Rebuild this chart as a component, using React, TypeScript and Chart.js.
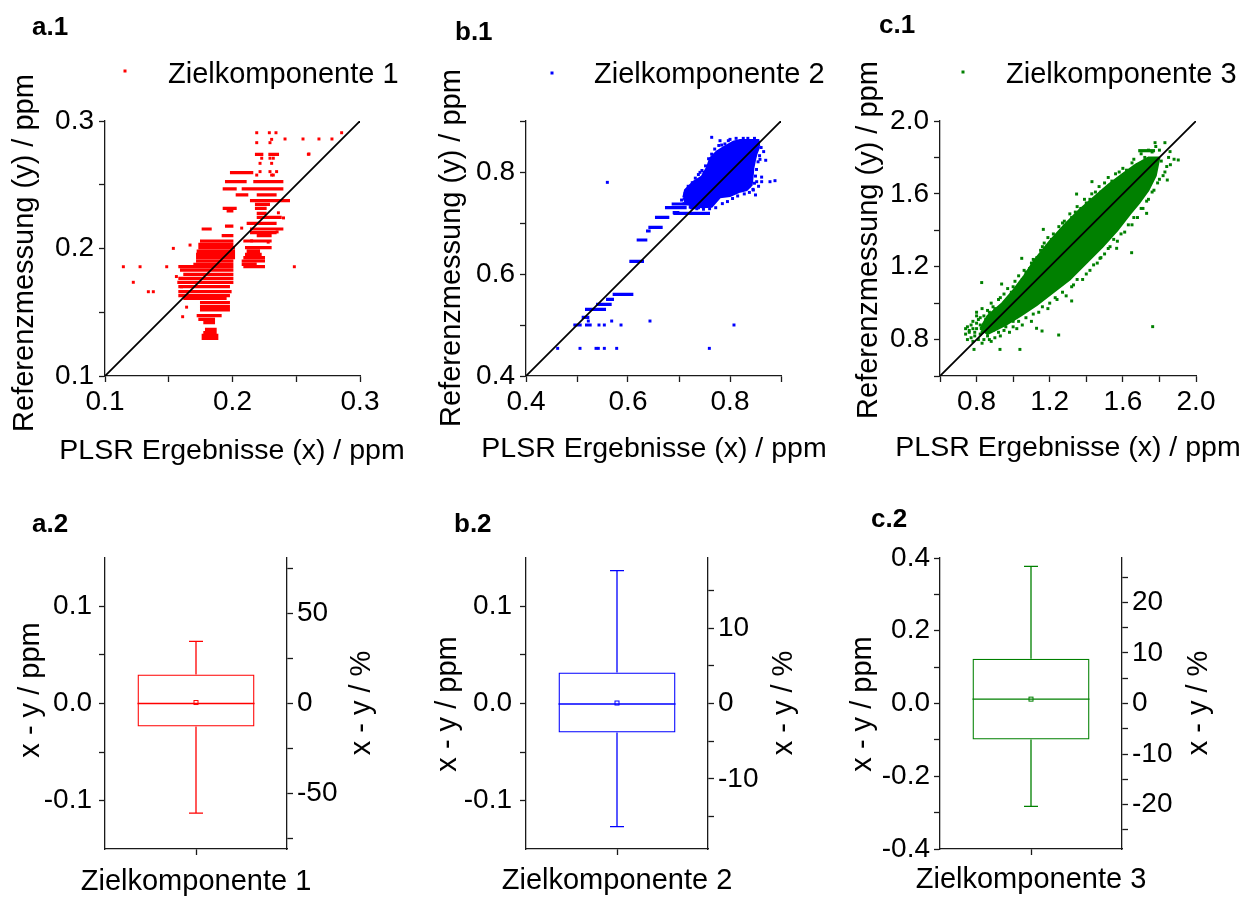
import React, { useEffect, useRef } from "react";
import { Chart, registerables } from "chart.js";

Chart.register(...registerables);

const FONT = "'Liberation Sans', Arial, Helvetica, sans-serif";
Chart.defaults.font.family = FONT;
Chart.defaults.color = "#000";

// ======================= DATA =======================
// ---- a.1  Zielkomponente 1 (red) ----
const comp1PointX = [0.1144, 0.1275, 0.1484, 0.1222, 0.134, 0.1379, 0.1536, 0.1667, 0.1609, 0.2485, 0.2595, 0.2412, 0.2553, 0.2678, 0.278, 0.2856, 0.219, 0.2289, 0.2341, 0.219, 0.2294, 0.2307, 0.2216, 0.2307, 0.2229, 0.2294, 0.232, 0.2216, 0.2294, 0.2346, 0.219, 0.2307, 0.232, 0.2072, 0.215, 0.228, 0.235, 0.236, 0.24, 0.156, 0.16, 0.164, 0.26];
const comp1PointY = [0.1857, 0.1857, 0.1857, 0.1735, 0.1661, 0.1661, 0.2001, 0.2027, 0.1465, 0.1857, 0.2739, 0.2859, 0.2859, 0.2859, 0.2859, 0.2908, 0.2908, 0.2908, 0.2908, 0.283, 0.283, 0.2856, 0.2668, 0.2668, 0.2708, 0.2708, 0.2708, 0.2603, 0.2603, 0.2603, 0.2576, 0.2576, 0.2576, 0.216, 0.206, 0.205, 0.213, 0.228, 0.224, 0.178, 0.17, 0.154, 0.2741];
const comp1RunY = [0.2739, 0.2739, 0.2595, 0.2524, 0.2524, 0.2467, 0.2467, 0.242, 0.242, 0.2375, 0.2346, 0.2315, 0.2315, 0.2294, 0.2276, 0.2244, 0.2197, 0.2176, 0.2153, 0.2153, 0.2124, 0.2101, 0.2101, 0.2059, 0.2059, 0.2033, 0.2007, 0.2007, 0.198, 0.198, 0.1954, 0.1954, 0.1928, 0.1928, 0.1902, 0.1902, 0.1876, 0.1876, 0.1858, 0.1858, 0.1831, 0.1797, 0.1766, 0.1735, 0.1701, 0.1661, 0.163, 0.1609, 0.1575, 0.1544, 0.1518, 0.1473, 0.1444, 0.1418, 0.1366, 0.134, 0.1318, 0.1295];
const comp1RunX0 = [0.2176, 0.2281, 0.198, 0.1941, 0.2163, 0.1923, 0.2072, 0.2025, 0.219, 0.2137, 0.2176, 0.1923, 0.2176, 0.1954, 0.219, 0.219, 0.2111, 0.1941, 0.1758, 0.2137, 0.2137, 0.1915, 0.219, 0.1745, 0.2085, 0.1732, 0.1732, 0.2098, 0.1719, 0.2111, 0.1714, 0.2098, 0.1714, 0.2085, 0.1714, 0.2072, 0.1693, 0.2072, 0.1575, 0.2085, 0.1588, 0.1614, 0.1575, 0.1567, 0.1575, 0.1575, 0.1575, 0.1614, 0.1745, 0.1745, 0.1745, 0.1719, 0.1732, 0.1771, 0.1784, 0.1771, 0.1758, 0.1758];
const comp1RunX1 = [0.2242, 0.2365, 0.2163, 0.2111, 0.2399, 0.2033, 0.2399, 0.2124, 0.2346, 0.2451, 0.2294, 0.2033, 0.2268, 0.2007, 0.2268, 0.2386, 0.2346, 0.2007, 0.1837, 0.2399, 0.2346, 0.2007, 0.2307, 0.2007, 0.2307, 0.2007, 0.202, 0.2307, 0.202, 0.2216, 0.202, 0.2229, 0.202, 0.2255, 0.2007, 0.2255, 0.2007, 0.219, 0.2007, 0.2255, 0.2007, 0.2007, 0.2007, 0.2007, 0.198, 0.1993, 0.198, 0.1954, 0.198, 0.198, 0.198, 0.1915, 0.1863, 0.1863, 0.1876, 0.1876, 0.1889, 0.1889];
const diag1 = [0.1, 0.3];
const axisTicks1 = [0.1, 0.15, 0.2, 0.25, 0.3];
const axisLabels1 = [0.1, 0.2, 0.3];

// ---- b.1  Zielkomponente 2 (blue) ----
const comp2PointX = [0.4621, 0.5059, 0.5373, 0.5418, 0.5536, 0.5778, 0.7595, 0.5431, 0.5536, 0.5863, 0.8078, 0.568, 0.6431, 0.5222, 0.5595, 0.7641, 0.7804, 0.7967, 0.7837, 0.7412, 0.749, 0.8588, 0.8523, 0.8621, 0.8784, 0.8882, 0.8458, 0.8379,
  0.705, 0.712, 0.718, 0.726, 0.732, 0.738, 0.745, 0.752, 0.758, 0.764, 0.77, 0.778, 0.79, 0.8, 0.812, 0.826, 0.835, 0.848, 0.856, 0.861, 0.858, 0.855, 0.852, 0.85, 0.848, 0.845, 0.838, 0.828, 0.815, 0.805, 0.795, 0.785, 0.772, 0.76, 0.748, 0.735, 0.722, 0.71, 0.866, 0.87, 0.862, 0.856, 0.85];
const comp2PointY = [0.4542, 0.4542, 0.4542, 0.4542, 0.4542, 0.4542, 0.4542, 0.5, 0.5, 0.5, 0.5, 0.5078, 0.5078, 0.5078, 0.7797, 0.868, 0.8614, 0.8614, 0.8529, 0.7993, 0.7993, 0.8248, 0.781, 0.781, 0.781, 0.783, 0.7647, 0.7725,
  0.745, 0.758, 0.772, 0.779, 0.788, 0.795, 0.803, 0.812, 0.826, 0.835, 0.845, 0.852, 0.855, 0.864, 0.866, 0.866, 0.866, 0.866, 0.858, 0.848, 0.832, 0.82, 0.805, 0.792, 0.778, 0.766, 0.76, 0.757, 0.753, 0.748, 0.742, 0.738, 0.73, 0.728, 0.727, 0.728, 0.731, 0.738, 0.84, 0.823, 0.79, 0.772, 0.755];
const comp2RunY = [0.5, 0.5, 0.515, 0.5307, 0.5405, 0.5503, 0.5601, 0.6248, 0.6667, 0.6843, 0.6915, 0.7111, 0.7203, 0.7301, 0.7301, 0.7373, 0.719];
const comp2RunX0 = [0.4928, 0.5157, 0.5092, 0.5157, 0.5373, 0.5569, 0.5699, 0.6026, 0.617, 0.6353, 0.6399, 0.6529, 0.6876, 0.6725, 0.7216, 0.6856, 0.6889];
const comp2RunX1 = [0.5092, 0.5288, 0.5242, 0.5569, 0.568, 0.5725, 0.6105, 0.6314, 0.6379, 0.6444, 0.668, 0.681, 0.7007, 0.715, 0.7412, 0.7281, 0.7608];
const comp2CoreUpperX = [0.7085, 0.7118, 0.7281, 0.7444, 0.7556, 0.7608, 0.7739, 0.7869, 0.8065, 0.8196, 0.8556, 0.8575];
const comp2CoreUpperY = [0.7503, 0.7647, 0.781, 0.7908, 0.8105, 0.8268, 0.8399, 0.8484, 0.8595, 0.8627, 0.8627, 0.8497];
const comp2CoreLowerX = [0.7085, 0.7118, 0.7216, 0.7444, 0.7641, 0.7804, 0.8, 0.8196, 0.8327, 0.8425, 0.8444, 0.8458, 0.849, 0.8523, 0.8575];
const comp2CoreLowerY = [0.7503, 0.7418, 0.7353, 0.7307, 0.732, 0.7503, 0.7529, 0.7614, 0.7647, 0.7745, 0.7908, 0.8072, 0.8235, 0.8366, 0.8497];
const diag2 = [0.4, 0.9];
const axisTicks2 = [0.4, 0.5, 0.6, 0.7, 0.8, 0.9];
const axisLabels2 = [0.4, 0.6, 0.8];

// ---- c.1  Zielkomponente 3 (green) ----
const comp3PointX = [0.76, 0.78, 0.8, 0.83, 0.85, 0.87, 0.88, 0.9, 0.92, 0.95, 0.97, 0.99, 1.01, 1.03, 1.06, 1.08, 1.1, 1.13, 1.15, 1.17, 1.19, 1.22, 1.25, 1.28, 1.31, 1.35, 1.39, 1.43, 1.47, 1.52, 1.56, 1.6, 1.65, 1.7, 1.74, 1.78,
  0.84, 0.88, 0.93, 0.98, 1.02, 1.05, 1.1, 1.14, 1.19, 1.24, 1.29, 1.33, 1.38, 1.42, 1.46, 1.5, 1.53, 1.57, 1.61, 1.65, 1.68, 1.71, 1.74, 1.77, 1.8, 1.83, 1.86, 1.88,
  0.74, 0.75, 0.77, 0.79, 0.81, 0.82, 0.83, 0.86, 0.87, 0.89, 0.91, 0.92, 0.94, 0.96, 0.97, 1.0, 0.8, 0.85, 0.78, 0.9,
  0.828, 0.786, 0.928, 1.037, 1.249, 1.158, 1.128, 1.763, 1.648, 1.32, 1.431, 1.165, 1.047, 1.903, 1.858, 1.83, 1.776, 1.843, 1.73, 1.566, 1.475, 1.347, 0.937,
  0.86, 0.89, 0.93, 0.96, 1.0, 1.02, 1.05, 1.07, 1.09, 1.11, 1.14, 1.16, 1.18, 1.21, 1.23, 1.26, 1.27, 1.3, 1.32, 1.34, 1.37, 1.4, 1.42, 1.45, 1.48, 1.5, 1.54, 1.58, 1.62, 1.66, 1.68, 1.72, 1.76, 1.8,
  0.9, 0.95, 1.0, 1.03, 1.07, 1.11, 1.16, 1.2, 1.23, 1.27, 1.32, 1.35, 1.4, 1.44, 1.48, 1.52, 1.55, 1.59, 1.63, 1.66, 1.7, 1.73, 1.76, 1.79, 1.82, 1.84, 1.81, 1.85,
  0.76, 0.77, 0.79, 0.8, 0.81, 0.82, 0.84, 0.84, 0.85, 0.86, 0.88, 0.88, 0.89, 0.9, 0.91, 0.93, 0.93, 0.95, 0.96, 0.98, 0.99, 0.78, 0.83, 0.87, 0.75, 0.74, 0.8, 0.82];
const comp3PointY = [0.85, 0.9, 0.93, 0.97, 0.88, 0.95, 1.0, 0.97, 1.02, 1.05, 1.08, 1.06, 1.12, 1.15, 1.18, 1.14, 1.22, 1.25, 1.29, 1.33, 1.36, 1.38, 1.42, 1.45, 1.49, 1.53, 1.57, 1.6, 1.64, 1.69, 1.71, 1.74, 1.77, 1.82, 1.84, 1.86,
  0.8, 0.79, 0.82, 0.84, 0.86, 0.88, 0.9, 0.95, 0.97, 1.02, 1.04, 1.1, 1.13, 1.18, 1.22, 1.27, 1.31, 1.34, 1.39, 1.43, 1.47, 1.52, 1.57, 1.62, 1.68, 1.72, 1.76, 1.79,
  0.83, 0.87, 0.81, 0.84, 0.8, 0.88, 0.84, 0.82, 0.86, 0.85, 0.88, 0.84, 0.9, 0.87, 0.92, 0.9, 0.89, 0.91, 0.86, 0.92,
  1.113, 0.746, 0.746, 0.746, 0.825, 0.847, 0.862, 0.871, 1.277, 1.012, 1.667, 1.405, 1.246, 1.786, 1.832, 1.881, 1.881, 1.676, 1.493, 1.301, 1.246, 1.599, 1.105,
  0.96, 0.98, 1.03, 1.01, 1.09, 1.07, 1.13, 1.17, 1.19, 1.24, 1.23, 1.31, 1.28, 1.35, 1.36, 1.4, 1.44, 1.44, 1.47, 1.5, 1.52, 1.55, 1.57, 1.61, 1.61, 1.66, 1.67, 1.72, 1.73, 1.79, 1.76, 1.8, 1.83, 1.84,
  0.81, 0.85, 0.87, 0.9, 0.92, 0.94, 0.98, 1.0, 1.03, 1.06, 1.09, 1.13, 1.16, 1.21, 1.25, 1.3, 1.35, 1.38, 1.43, 1.47, 1.52, 1.56, 1.61, 1.66, 1.7, 1.75, 1.78, 1.8,
  0.84, 0.88, 0.82, 0.86, 0.91, 0.83, 0.87, 0.93, 0.85, 0.89, 0.87, 0.91, 0.94, 0.89, 0.95, 0.88, 0.93, 0.91, 0.96, 0.94, 0.98, 0.79, 0.78, 0.8, 0.8, 0.86, 0.95, 0.92];
const comp3RunY = [1.837];
const comp3RunX0 = [1.684];
const comp3RunX1 = [1.776];
const comp3CoreUpperX = [0.82, 0.86, 0.94, 1.0, 1.06, 1.12, 1.2, 1.28, 1.36, 1.44, 1.52, 1.6, 1.67, 1.74, 1.8];
const comp3CoreUpperY = [0.86, 0.93, 1.0, 1.07, 1.15, 1.24, 1.34, 1.43, 1.51, 1.58, 1.65, 1.71, 1.76, 1.8, 1.8];
const comp3CoreLowerX = [0.82, 0.86, 0.96, 1.04, 1.13, 1.22, 1.31, 1.4, 1.49, 1.57, 1.64, 1.69, 1.74, 1.78, 1.8];
const comp3CoreLowerY = [0.86, 0.83, 0.88, 0.93, 0.99, 1.06, 1.13, 1.22, 1.31, 1.4, 1.49, 1.55, 1.62, 1.7, 1.8];
const diag3 = [0.6, 2.0];
const axisTicks3 = [0.6, 0.8, 1.0, 1.2, 1.4, 1.6, 1.8, 2.0];
const axisLabels3 = [0.8, 1.2, 1.6, 2.0];

// ---- Box plots (x - y) ----
const boxCategories = ["Zielkomponente 1", "Zielkomponente 2", "Zielkomponente 3"];
const boxLow = [-0.113, -0.127, -0.283];
const boxQ1 = [-0.0237, -0.03, -0.099];
const boxMedian = [0.0, -0.0005, 0.012];
const boxMean = [0.001, 0.0005, 0.012];
const boxQ3 = [0.03, 0.032, 0.123];
const boxHigh = [0.064, 0.137, 0.377];
const boxPpmRange = [0.15, 0.15, 0.4];
const boxPctRange = [80.8, 19.3, 28.8];
const boxPpmTicks = [
  [-0.1, -0.05, 0, 0.05, 0.1],
  [-0.1, -0.05, 0, 0.05, 0.1],
  [-0.4, -0.3, -0.2, -0.1, 0, 0.1, 0.2, 0.3, 0.4],
];
const boxPpmLabels = [
  [-0.1, 0, 0.1],
  [-0.1, 0, 0.1],
  [-0.4, -0.2, 0, 0.2, 0.4],
];
const boxPctTicks = [
  [-75, -50, -25, 0, 25, 50, 75],
  [-15, -10, -5, 0, 5, 10, 15],
  [-25, -20, -15, -10, -5, 0, 5, 10, 15, 20, 25],
];
const boxPctLabels = [
  [-50, 0, 50],
  [-10, 0, 10],
  [-20, -10, 0, 10, 20],
];

// ======================= STYLE / LAYOUT =======================
const COLORS = ["#ff0000", "#0000ff", "#008000"];
const AXIS_COLOR = "#1a1a1a";
const TICK_SIZE = 28;
const TITLE_SIZE = 29;
const XTITLE_SIZE = 28.5;
const LABEL_SIZE = 26;

type Box = { left: number; top: number; width: number; height: number };
type Area = { l: number; r: number; t: number; b: number };
type Txt = { text: string; x: number; y: number; size: number; bold?: boolean; rotate?: boolean; align?: CanvasTextAlign };

const isLabel = (labels: number[], v: number) => labels.some((l) => Math.abs(l - v) < 1e-9);

function textPlugin(items: Txt[], canvas: Box, marker?: { x: number; y: number; color: string }) {
  return {
    id: "panelText",
    afterDraw(chart: any) {
      const ctx: CanvasRenderingContext2D = chart.ctx;
      ctx.save();
      ctx.fillStyle = "#000";
      ctx.textBaseline = "alphabetic";
      for (const t of items) {
        ctx.save();
        ctx.font = `${t.bold ? "bold " : ""}${t.size}px ${FONT}`;
        ctx.translate(t.x - canvas.left, t.y - canvas.top);
        if (t.rotate) ctx.rotate(-Math.PI / 2);
        ctx.textAlign = t.align ?? "center";
        ctx.fillText(t.text, 0, 0);
        ctx.restore();
      }
      if (marker) {
        ctx.fillStyle = marker.color;
        ctx.fillRect(marker.x - canvas.left - 1.5, marker.y - canvas.top - 1.5, 3, 3);
      }
      ctx.restore();
    },
  };
}

function linearAxis(o: {
  min: number; max: number; ticks: number[]; labels: number[]; decimals: number;
  position: "left" | "right" | "bottom"; size: number; padding: number;
}) {
  const horizontal = o.position === "bottom";
  return {
    type: "linear",
    position: o.position,
    min: o.min,
    max: o.max,
    afterBuildTicks: (s: any) => {
      s.ticks = o.ticks.map((v) => ({ value: v }));
    },
    afterFit: (s: any) => {
      if (horizontal) s.height = o.size;
      else s.width = o.size;
      s.paddingLeft = 0;
      s.paddingRight = 0;
      s.paddingTop = 0;
      s.paddingBottom = 0;
    },
    ticks: {
      autoSkip: false,
      maxRotation: 0,
      minRotation: 0,
      padding: o.padding,
      color: "#000",
      font: { size: TICK_SIZE, family: FONT },
      callback: (v: number) => (isLabel(o.labels, v) ? v.toFixed(o.decimals) : ""),
    },
    grid: {
      drawOnChartArea: false,
      drawTicks: true,
      tickLength: 6,
      tickWidth: 1.3,
      tickColor: AXIS_COLOR,
    },
    border: { display: true, color: AXIS_COLOR, width: 1.3 },
  };
}

type ScatterPanel = {
  canvas: Box; area: Area; color: string; legend: string; label: string;
  labelPos: [number, number]; legendMarker: [number, number]; legendText: [number, number];
  xTitle: [number, number]; yTitle: [number, number];
  min: number; max: number; ticks: number[]; labels: number[]; diag: number[];
  px: number[]; py: number[]; runY: number[]; runX0: number[]; runX1: number[];
  coreUX?: number[]; coreUY?: number[]; coreLX?: number[]; coreLY?: number[];
};

function buildScatter(p: ScatterPanel) {
  const c = p.canvas;
  const pts = p.px.map((x, i) => ({ x, y: p.py[i] }));
  const runs: any[] = [];
  p.runY.forEach((y, i) => {
    runs.push({ x: p.runX0[i], y }, { x: p.runX1[i], y }, { x: p.runX1[i], y: null });
  });
  const diag = p.diag.map((v) => ({ x: v, y: v }));
  const datasets: any[] = [
    { data: diag, showLine: true, borderColor: "#000", borderWidth: 1.8, pointRadius: 0, fill: false },
    { data: pts, showLine: false, pointRadius: 2.1, pointBorderWidth: 0, pointBackgroundColor: p.color, pointStyle: "rect" },
    { data: runs, showLine: true, spanGaps: false, borderColor: p.color, borderWidth: 3.2, pointRadius: 0, fill: false },
  ];
  if (p.coreUX && p.coreUY && p.coreLX && p.coreLY) {
    datasets.push(
      { data: p.coreLX.map((x, i) => ({ x, y: p.coreLY![i] })), showLine: true, borderColor: p.color, borderWidth: 2, pointRadius: 0, backgroundColor: p.color, fill: "+1" },
      { data: p.coreUX.map((x, i) => ({ x, y: p.coreUY![i] })), showLine: true, borderColor: p.color, borderWidth: 2, pointRadius: 0, fill: false }
    );
  }
  const texts: Txt[] = [
    { text: p.label, x: p.labelPos[0], y: p.labelPos[1], size: LABEL_SIZE, bold: true, align: "left" },
    { text: p.legend, x: p.legendText[0], y: p.legendText[1], size: TITLE_SIZE, align: "left" },
    { text: "PLSR Ergebnisse (x) / ppm", x: p.xTitle[0], y: p.xTitle[1], size: XTITLE_SIZE },
    { text: "Referenzmessung (y) / ppm", x: p.yTitle[0], y: p.yTitle[1], size: TITLE_SIZE, rotate: true },
  ];
  return {
    type: "scatter",
    data: { datasets },
    options: {
      responsive: false,
      animation: false,
      events: [],
      devicePixelRatio: 1,
      layout: { padding: { left: 0, top: p.area.t - c.top, right: c.left + c.width - p.area.r, bottom: 0 } },
      plugins: { legend: { display: false }, tooltip: { enabled: false }, title: { display: false } },
      scales: {
        x: linearAxis({ min: p.min, max: p.max, ticks: p.ticks, labels: p.labels, decimals: 1, position: "bottom", size: c.top + c.height - p.area.b, padding: 3 }),
        y: linearAxis({ min: p.min, max: p.max, ticks: p.ticks, labels: p.labels, decimals: 1, position: "left", size: p.area.l - c.left, padding: 5 }),
      },
    },
    plugins: [textPlugin(texts, c, { x: p.legendMarker[0], y: p.legendMarker[1], color: p.color })],
  };
}

type BoxPanel = {
  i: number; canvas: Box; area: Area; label: string; labelPos: [number, number];
  leftTitle: [number, number]; rightTitle: [number, number]; leftPad: number; xPad: number;
};

function boxPlugin(i: number, color: string) {
  return {
    id: "boxExtras",
    afterDatasetsDraw(chart: any) {
      const ctx: CanvasRenderingContext2D = chart.ctx;
      const ys = chart.scales.y;
      const bar = chart.getDatasetMeta(0).data[0];
      const cx = bar.x;
      const half = bar.width / 2;
      const capHalf = 7;
      const py = (v: number) => ys.getPixelForValue(v);
      ctx.save();
      ctx.strokeStyle = color;
      ctx.lineWidth = 1.3;
      ctx.beginPath();
      ctx.moveTo(cx, py(boxQ3[i]));
      ctx.lineTo(cx, py(boxHigh[i]));
      ctx.moveTo(cx - capHalf, py(boxHigh[i]));
      ctx.lineTo(cx + capHalf, py(boxHigh[i]));
      ctx.moveTo(cx, py(boxQ1[i]));
      ctx.lineTo(cx, py(boxLow[i]));
      ctx.moveTo(cx - capHalf, py(boxLow[i]));
      ctx.lineTo(cx + capHalf, py(boxLow[i]));
      ctx.moveTo(cx - half, py(boxMedian[i]));
      ctx.lineTo(cx + half, py(boxMedian[i]));
      ctx.stroke();
      ctx.lineWidth = 1;
      const m = py(boxMean[i]);
      ctx.strokeRect(cx - 2, m - 2, 4, 4);
      ctx.restore();
    },
  };
}

function buildBox(p: BoxPanel) {
  const c = p.canvas;
  const i = p.i;
  const color = COLORS[i];
  const texts: Txt[] = [
    { text: p.label, x: p.labelPos[0], y: p.labelPos[1], size: LABEL_SIZE, bold: true, align: "left" },
    { text: "x - y / ppm", x: p.leftTitle[0], y: p.leftTitle[1], size: TITLE_SIZE, rotate: true },
    { text: "x - y / %", x: p.rightTitle[0], y: p.rightTitle[1], size: TITLE_SIZE, rotate: true },
  ];
  return {
    type: "bar",
    data: {
      labels: [boxCategories[i]],
      datasets: [
        {
          data: [[boxQ1[i], boxQ3[i]]],
          backgroundColor: "rgba(255,255,255,0)",
          borderColor: color,
          borderWidth: 1.3,
          borderSkipped: false,
          barPercentage: 117 / 182,
          categoryPercentage: 1,
          yAxisID: "y",
        },
      ],
    },
    options: {
      responsive: false,
      animation: false,
      events: [],
      devicePixelRatio: 1,
      layout: { padding: { left: 0, top: p.area.t - c.top, right: 0, bottom: 0 } },
      plugins: { legend: { display: false }, tooltip: { enabled: false }, title: { display: false } },
      scales: {
        x: {
          type: "category",
          position: "bottom",
          offset: true,
          afterFit: (s: any) => {
            s.height = c.top + c.height - p.area.b;
            s.paddingLeft = 0;
            s.paddingRight = 0;
          },
          ticks: { autoSkip: false, maxRotation: 0, minRotation: 0, padding: p.xPad, color: "#000", font: { size: TITLE_SIZE, family: FONT } },
          grid: { offset: false, drawOnChartArea: false, drawTicks: true, tickLength: 6, tickWidth: 1.3, tickColor: AXIS_COLOR },
          border: { display: true, color: AXIS_COLOR, width: 1.3 },
        },
        y: linearAxis({ min: -boxPpmRange[i], max: boxPpmRange[i], ticks: boxPpmTicks[i], labels: boxPpmLabels[i], decimals: 1, position: "left", size: p.area.l - c.left, padding: p.leftPad }),
        y1: linearAxis({ min: -boxPctRange[i], max: boxPctRange[i], ticks: boxPctTicks[i], labels: boxPctLabels[i], decimals: 0, position: "right", size: c.left + c.width - p.area.r, padding: 4 }),
      },
    },
    plugins: [boxPlugin(i, color), textPlugin(texts, c)],
  };
}

const scatterPanels: ScatterPanel[] = [
  {
    canvas: { left: 0, top: 0, width: 415, height: 470 }, area: { l: 105, r: 360, t: 121, b: 376 },
    color: COLORS[0], legend: "Zielkomponente 1", label: "a.1", labelPos: [32, 35],
    legendMarker: [125, 71], legendText: [168, 83], xTitle: [232, 459], yTitle: [33, 253],
    min: 0.1, max: 0.3, ticks: axisTicks1, labels: axisLabels1, diag: diag1,
    px: comp1PointX, py: comp1PointY, runY: comp1RunY, runX0: comp1RunX0, runX1: comp1RunX1,
  },
  {
    canvas: { left: 415, top: 0, width: 420, height: 470 }, area: { l: 526, r: 781, t: 121, b: 376 },
    color: COLORS[1], legend: "Zielkomponente 2", label: "b.1", labelPos: [455, 40],
    legendMarker: [552, 73], legendText: [594, 83], xTitle: [654, 457], yTitle: [460, 248],
    min: 0.4, max: 0.9, ticks: axisTicks2, labels: axisLabels2, diag: diag2,
    px: comp2PointX, py: comp2PointY, runY: comp2RunY, runX0: comp2RunX0, runX1: comp2RunX1,
    coreUX: comp2CoreUpperX, coreUY: comp2CoreUpperY, coreLX: comp2CoreLowerX, coreLY: comp2CoreLowerY,
  },
  {
    canvas: { left: 835, top: 0, width: 407, height: 470 }, area: { l: 940, r: 1196, t: 121, b: 376 },
    color: COLORS[2], legend: "Zielkomponente 3", label: "c.1", labelPos: [879, 33],
    legendMarker: [963, 72], legendText: [1006, 83], xTitle: [1068, 456], yTitle: [877, 240],
    min: 0.6, max: 2.0, ticks: axisTicks3, labels: axisLabels3, diag: diag3,
    px: comp3PointX, py: comp3PointY, runY: comp3RunY, runX0: comp3RunX0, runX1: comp3RunX1,
    coreUX: comp3CoreUpperX, coreUY: comp3CoreUpperY, coreLX: comp3CoreLowerX, coreLY: comp3CoreLowerY,
  },
];

const boxPanels: BoxPanel[] = [
  { i: 0, canvas: { left: 0, top: 470, width: 415, height: 427 }, area: { l: 105, r: 287, t: 558, b: 849 }, label: "a.2", labelPos: [32, 532], leftTitle: [39, 690], rightTitle: [370, 703], leftPad: 7, xPad: 10 },
  { i: 1, canvas: { left: 415, top: 470, width: 420, height: 427 }, area: { l: 526, r: 708, t: 558, b: 849 }, label: "b.2", labelPos: [454, 532], leftTitle: [456, 704], rightTitle: [792, 703], leftPad: 8, xPad: 9 },
  { i: 2, canvas: { left: 835, top: 470, width: 407, height: 427 }, area: { l: 940, r: 1122, t: 558, b: 849 }, label: "c.2", labelPos: [871, 527], leftTitle: [871, 704], rightTitle: [1207, 703], leftPad: 4, xPad: 8 },
];

function ChartCanvas({ box, build }: { box: Box; build: () => any }) {
  const ref = useRef<HTMLCanvasElement>(null);
  useEffect(() => {
    const chart = new Chart(ref.current as HTMLCanvasElement, build());
    return () => chart.destroy();
  }, []);
  return (
    <canvas
      ref={ref}
      width={box.width}
      height={box.height}
      style={{ position: "absolute", left: box.left, top: box.top, width: box.width, height: box.height }}
    />
  );
}

export default function App() {
  return (
    <div style={{ position: "absolute", left: 0, top: 0, width: 1242, height: 897, background: "#fff", overflow: "hidden" }}>
      {scatterPanels.map((p, k) => (
        <ChartCanvas key={"s" + k} box={p.canvas} build={() => buildScatter(p)} />
      ))}
      {boxPanels.map((p, k) => (
        <ChartCanvas key={"b" + k} box={p.canvas} build={() => buildBox(p)} />
      ))}
    </div>
  );
}
